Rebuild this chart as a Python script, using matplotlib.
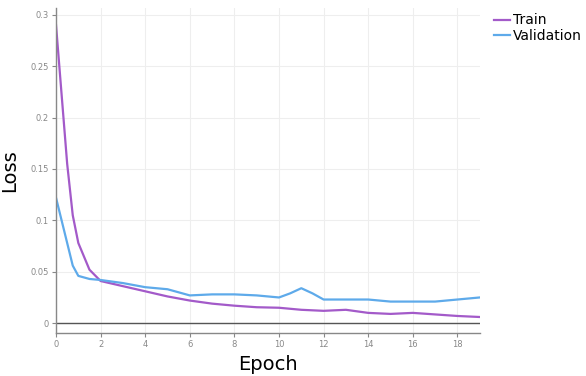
import matplotlib
matplotlib.use("Agg")
import matplotlib.pyplot as plt

train_epochs = [0, 0.5, 0.75, 1, 1.5, 2, 3, 4, 5, 6, 7, 8, 9, 10, 11, 12, 13, 14, 15, 16, 17, 18, 19]
train_loss = [0.29, 0.155, 0.105, 0.078, 0.052, 0.041, 0.036, 0.031, 0.026, 0.022, 0.019, 0.017,
              0.0155, 0.015, 0.013, 0.012, 0.013, 0.010, 0.009, 0.010, 0.0085, 0.007, 0.006]
val_epochs = [0, 0.5, 0.75, 1, 1.5, 2, 3, 4, 5, 6, 7, 8, 9, 10, 10.5, 11, 11.5, 12, 13, 14, 15, 16, 17, 18, 19]
val_loss = [0.122, 0.078, 0.056, 0.046, 0.043, 0.042, 0.039, 0.035, 0.033, 0.027, 0.028, 0.028,
            0.027, 0.025, 0.029, 0.034, 0.029, 0.023, 0.023, 0.023, 0.021, 0.021, 0.021, 0.023, 0.025]
xticks = [0, 2, 4, 6, 8, 10, 12, 14, 16, 18]
yticks = [0, 0.05, 0.1, 0.15, 0.2, 0.25, 0.3]
ytick_labels = ["0", "0.05", "0.1", "0.15", "0.2", "0.25", "0.3"]

fig = plt.figure(figsize=(5.86, 3.76), dpi=100)
ax = fig.add_axes([0.0956, 0.114, 0.723, 0.865])

ax.plot(train_epochs, train_loss, color="#a35ac9", lw=1.6, label="Train", solid_joinstyle="round")
ax.plot(val_epochs, val_loss, color="#5eaaea", lw=1.6, label="Validation", solid_joinstyle="round")
ax.axhline(0, color="#555555", lw=1.0, zorder=1)

ax.set_xlim(0, 19)
ax.set_ylim(-0.0097, 0.3067)
ax.set_xticks(xticks)
ax.set_yticks(yticks)
ax.set_yticklabels(ytick_labels)
ax.tick_params(axis="both", labelsize=6, colors="#888888", length=3, width=0.8, pad=2)
ax.grid(True, color="#eeeeee", lw=0.8)
ax.set_axisbelow(True)
for s in ["top", "right"]:
    ax.spines[s].set_visible(False)
for s in ["left", "bottom"]:
    ax.spines[s].set_color("#888888")
    ax.spines[s].set_linewidth(1.0)

ax.set_xlabel("Epoch", fontsize=14, labelpad=4)
ax.set_ylabel("Loss", fontsize=14)
ax.yaxis.set_label_coords(-0.088, 0.5)

leg = ax.legend(loc="upper left", bbox_to_anchor=(1.02, 1.0), frameon=False, fontsize=10,
                handlelength=1.2, handletextpad=0.2, labelspacing=0.1, borderaxespad=0)

fig.savefig("out.png", dpi=100)
